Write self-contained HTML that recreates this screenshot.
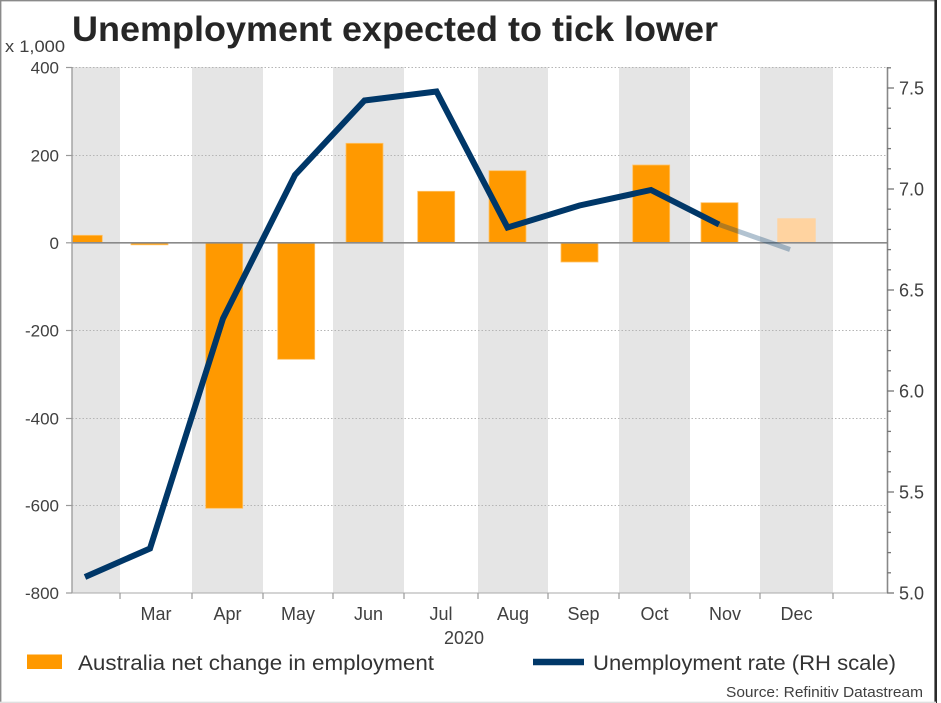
<!DOCTYPE html>
<html><head><meta charset="utf-8"><style>
html,body{margin:0;padding:0;background:#fff;}
svg{display:block;}
text{font-family:"Liberation Sans",Arial,sans-serif;}
</style></head><body>
<svg width="941" height="703" viewBox="0 0 941 703" xmlns="http://www.w3.org/2000/svg">
<rect x="0" y="0" width="941" height="703" fill="#fff"/>
<!-- bands -->
<g fill="#e5e5e5">
<rect x="72" y="67" width="48" height="526"/>
<rect x="192" y="67" width="71" height="526"/>
<rect x="333" y="67" width="71" height="526"/>
<rect x="478" y="67" width="70" height="526"/>
<rect x="619" y="67" width="71" height="526"/>
<rect x="760" y="67" width="73" height="526"/>
</g>
<!-- gridlines -->
<g stroke="#b5b5b5" stroke-width="1" stroke-dasharray="1.5,2">
<line x1="72" y1="67.5" x2="887" y2="67.5"/>
<line x1="72" y1="155.5" x2="887" y2="155.5"/>
<line x1="72" y1="330.5" x2="887" y2="330.5"/>
<line x1="72" y1="418.5" x2="887" y2="418.5"/>
<line x1="72" y1="505.5" x2="887" y2="505.5"/>
<line x1="72" y1="593" x2="887" y2="593"/>
</g>
<!-- bars -->
<g fill="#ff9900" stroke="#ffc266" stroke-width="0.8">
<rect x="72.5" y="235.3" width="29.8" height="7.5"/>
<rect x="131" y="242.8" width="37" height="2"/>
<rect x="205.7" y="242.8" width="37" height="265.5"/>
<rect x="277.7" y="242.8" width="37" height="116.5"/>
<rect x="346" y="143.3" width="37" height="99.5"/>
<rect x="417.7" y="191.3" width="37" height="51.5"/>
<rect x="489" y="170.7" width="37" height="72.1"/>
<rect x="561" y="242.8" width="37" height="19.2"/>
<rect x="632.7" y="165" width="37" height="77.8"/>
<rect x="701" y="202.7" width="37" height="40.1"/>
</g>
<rect x="777.3" y="218.3" width="38.4" height="24.5" fill="#ffd3a0"/>
<!-- zero line -->
<line x1="72" y1="242.8" x2="887" y2="242.8" stroke="#8a8a8a" stroke-width="1.6"/>
<!-- axes -->
<line x1="72" y1="67" x2="72" y2="593.5" stroke="#999" stroke-width="1.3"/>
<line x1="887.5" y1="67" x2="887.5" y2="593.5" stroke="#888" stroke-width="1.6"/>
<line x1="72" y1="593" x2="887" y2="593" stroke="#aaa" stroke-width="1"/>
<!-- left ticks -->
<g stroke="#999" stroke-width="1.2">
<line x1="66" y1="67.5" x2="72" y2="67.5"/>
<line x1="66" y1="155.5" x2="72" y2="155.5"/>
<line x1="66" y1="242.8" x2="72" y2="242.8"/>
<line x1="66" y1="330.5" x2="72" y2="330.5"/>
<line x1="66" y1="418.5" x2="72" y2="418.5"/>
<line x1="66" y1="505.5" x2="72" y2="505.5"/>
<line x1="66" y1="593" x2="72" y2="593"/>
</g>
<!-- bottom ticks -->
<g stroke="#999" stroke-width="1.2">
<line x1="120" y1="593" x2="120" y2="599"/>
<line x1="192" y1="593" x2="192" y2="599"/>
<line x1="263" y1="593" x2="263" y2="599"/>
<line x1="333" y1="593" x2="333" y2="599"/>
<line x1="404" y1="593" x2="404" y2="599"/>
<line x1="478" y1="593" x2="478" y2="599"/>
<line x1="548" y1="593" x2="548" y2="599"/>
<line x1="619" y1="593" x2="619" y2="599"/>
<line x1="690" y1="593" x2="690" y2="599"/>
<line x1="760" y1="593" x2="760" y2="599"/>
<line x1="833" y1="593" x2="833" y2="599"/>
</g>
<!-- right ticks -->
<g stroke="#777" stroke-width="1.3">
<line x1="887" y1="88" x2="894" y2="88"/>
<line x1="887" y1="189" x2="894" y2="189"/>
<line x1="887" y1="290" x2="894" y2="290"/>
<line x1="887" y1="391" x2="894" y2="391"/>
<line x1="887" y1="492" x2="894" y2="492"/>
<line x1="887" y1="593" x2="894" y2="593"/>
</g>
<g stroke="#777" stroke-width="1.3">
<line x1="887" y1="67.8" x2="891" y2="67.8"/>
<line x1="887" y1="108.2" x2="891" y2="108.2"/>
<line x1="887" y1="128.4" x2="891" y2="128.4"/>
<line x1="887" y1="148.6" x2="891" y2="148.6"/>
<line x1="887" y1="168.8" x2="891" y2="168.8"/>
<line x1="887" y1="209.2" x2="891" y2="209.2"/>
<line x1="887" y1="229.4" x2="891" y2="229.4"/>
<line x1="887" y1="249.6" x2="891" y2="249.6"/>
<line x1="887" y1="269.8" x2="891" y2="269.8"/>
<line x1="887" y1="310.2" x2="891" y2="310.2"/>
<line x1="887" y1="330.4" x2="891" y2="330.4"/>
<line x1="887" y1="350.6" x2="891" y2="350.6"/>
<line x1="887" y1="370.8" x2="891" y2="370.8"/>
<line x1="887" y1="411.2" x2="891" y2="411.2"/>
<line x1="887" y1="431.4" x2="891" y2="431.4"/>
<line x1="887" y1="451.6" x2="891" y2="451.6"/>
<line x1="887" y1="471.8" x2="891" y2="471.8"/>
<line x1="887" y1="512.2" x2="891" y2="512.2"/>
<line x1="887" y1="532.4" x2="891" y2="532.4"/>
<line x1="887" y1="552.6" x2="891" y2="552.6"/>
<line x1="887" y1="572.8" x2="891" y2="572.8"/>
</g>
<!-- unemployment line -->
<polyline points="85,577 150,548.5 223,318.5 295,175 364.5,100.5 436.5,91.5 507.5,227.5 579.5,205.5 651,190 719,224.5" fill="none" stroke="#003768" stroke-width="6" stroke-linejoin="miter" stroke-linecap="butt"/>
<line x1="717" y1="223.8" x2="790" y2="249.5" stroke="#003768" stroke-opacity="0.3" stroke-width="5"/>
<!-- title -->
<text x="72" y="41" font-size="35" font-weight="bold" fill="#262626" textLength="646" lengthAdjust="spacingAndGlyphs">Unemployment expected to tick lower</text>
<!-- left labels -->
<g font-size="17" fill="#404040" text-anchor="end">
<text x="65" y="52" textLength="60" lengthAdjust="spacingAndGlyphs">x 1,000</text>
<text x="59" y="73.5">400</text>
<text x="59" y="161.5">200</text>
<text x="59" y="249">0</text>
<text x="59" y="336.5">-200</text>
<text x="59" y="424.5">-400</text>
<text x="59" y="511.5">-600</text>
<text x="59" y="599">-800</text>
</g>
<!-- right labels -->
<g font-size="18" fill="#404040">
<text x="899" y="94.5">7.5</text>
<text x="899" y="195.5">7.0</text>
<text x="899" y="296.5">6.5</text>
<text x="899" y="397.5">6.0</text>
<text x="899" y="498.5">5.5</text>
<text x="899" y="599.5">5.0</text>
</g>
<!-- month labels -->
<g font-size="18" fill="#404040" text-anchor="middle">
<text x="156" y="620">Mar</text>
<text x="227.5" y="620">Apr</text>
<text x="298" y="620">May</text>
<text x="368.5" y="620">Jun</text>
<text x="441" y="620">Jul</text>
<text x="513" y="620">Aug</text>
<text x="583.5" y="620">Sep</text>
<text x="654.5" y="620">Oct</text>
<text x="725" y="620">Nov</text>
<text x="796.5" y="620">Dec</text>
<text x="464" y="644">2020</text>
</g>
<!-- legend -->
<rect x="27" y="654.5" width="35" height="14.5" fill="#ff9900"/>
<text x="78" y="670" font-size="21" fill="#333" textLength="356" lengthAdjust="spacingAndGlyphs">Australia net change in employment</text>
<line x1="533" y1="662" x2="584" y2="662" stroke="#003768" stroke-width="6.5"/>
<text x="593" y="670" font-size="21" fill="#333" textLength="303" lengthAdjust="spacingAndGlyphs">Unemployment rate (RH scale)</text>
<text x="923" y="697" font-size="15" fill="#404040" text-anchor="end" textLength="197" lengthAdjust="spacingAndGlyphs">Source: Refinitiv Datastream</text>
<!-- border -->
<line x1="0.7" y1="0" x2="0.7" y2="703" stroke="#8a8a8a" stroke-width="1.4"/>
<line x1="0" y1="0.7" x2="936" y2="0.7" stroke="#8a8a8a" stroke-width="1.4"/>
<line x1="935.7" y1="0" x2="935.7" y2="703" stroke="#2a2a2a" stroke-width="2.6"/>
<line x1="0" y1="702.3" x2="936" y2="702.3" stroke="#e0e0e0" stroke-width="1.4"/>
</svg>
</body></html>
